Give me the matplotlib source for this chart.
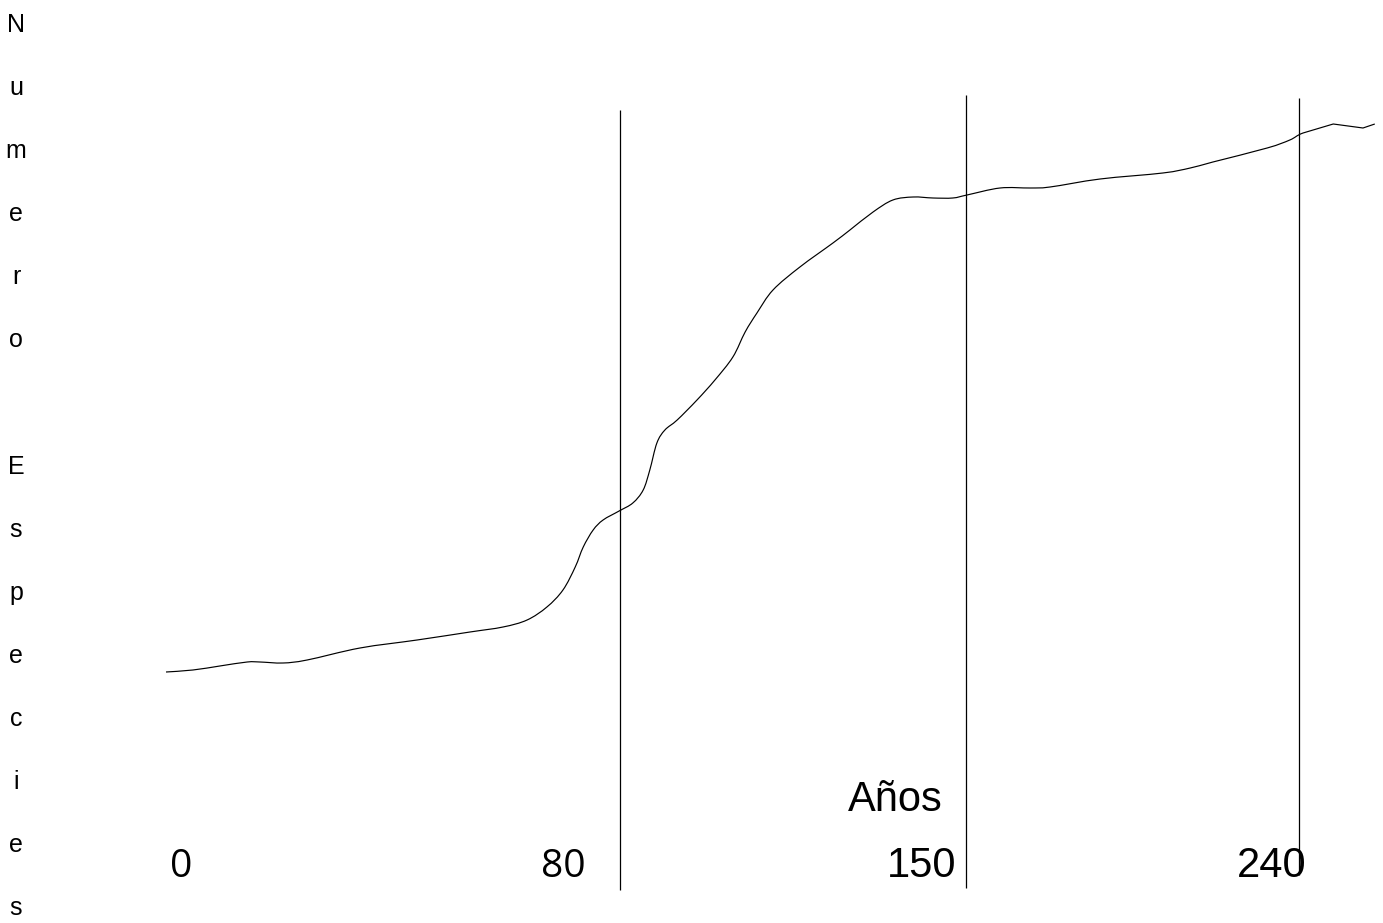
import matplotlib
matplotlib.use("Agg")
import matplotlib.pyplot as plt
import numpy as np
from matplotlib.path import Path
from matplotlib.patches import PathPatch

# ---- data ----
years = [0.0, 5.7, 11.4, 17.2, 19.9, 24.8, 29.9, 41.1, 53.2, 64.4, 71.4, 76.5,
         80.7, 84.1, 86.7, 88.4, 90.5, 92.6, 96.0, 98.9, 101.1, 102.5, 104.0,
         105.7, 108.3, 112.5, 116.3, 120.1, 122.7, 125.2, 128.6, 134.3, 141.3,
         144.9, 149.8, 154.0, 158.3, 162.5, 166.7, 169.7, 176.7, 183.1, 187.3,
         197.9, 211.2, 217.0, 221.8, 233.3, 238.1, 240.9, 247.3, 253.6, 256.1]
species = [62.75, 63.25, 64.25, 65.25, 65.25, 65.0, 65.75, 68.75, 70.75, 72.75,
           74.0, 75.75, 79.0, 83.25, 89.0, 94.0, 98.25, 100.75, 103.0, 105.0,
           108.25, 113.25, 120.0, 123.25, 125.75, 130.75, 135.75, 141.5, 147.75,
           152.5, 158.25, 164.0, 170.0, 173.25, 177.75, 180.75, 181.5, 181.25,
           181.25, 182.0, 183.75, 183.75, 184.0, 186.0, 187.5, 188.75, 190.25,
           193.75, 195.75, 197.5, 199.75, 198.75, 199.75]

period_years = [96.2, 169.5, 240.0]
period_top = [203.25, 207.0, 206.25]
period_bottom = [8.25, 8.75, 12.0]

tick_labels = ["0", "80", "150", "240"]
x_title = "Años"
y_title = "Numero Especies"

# ---- figure ----
W, H = 1383, 923
fig = plt.figure(figsize=(W / 100, H / 100), dpi=100)
fig.patch.set_facecolor("white")
ax = fig.add_axes([0, 0, 1, 1])
ax.axis("off")
ax.set_xlim(-166 / 4.72, (W - 166) / 4.72)
ax.set_ylim(0, H / 4)

# smooth curve through the read points (Catmull-Rom as cubic Bezier path),
# the last few segments are straight as in the reference
pts = np.column_stack([years, species])
n = len(pts)
n_smooth = n - 4  # index after which segments are straight
verts = [tuple(pts[0])]
codes = [Path.MOVETO]
for i in range(n - 1):
    p1, p2 = pts[i], pts[i + 1]
    if i < n_smooth:
        p0 = pts[i - 1] if i > 0 else p1
        p3 = pts[i + 2] if i + 2 < n else p2
        c1 = p1 + (p2 - p0) / 6.0
        c2 = p2 - (p3 - p1) / 6.0
        verts += [tuple(c1), tuple(c2), tuple(p2)]
        codes += [Path.CURVE4] * 3
    else:
        verts.append(tuple(p2))
        codes.append(Path.LINETO)
ax.add_patch(PathPatch(Path(verts, codes), facecolor="none",
                       edgecolor="black", lw=0.85, joinstyle="round"))

ax.vlines(period_years, period_bottom, period_top, color="black", lw=0.9)


def px(x, y):
    return x / W, 1 - y / H


# vertical y title, one letter per line
ytx = 16
for i, ch in enumerate(y_title):
    if ch == " ":
        continue
    fig.text(*px(ytx, 25 + 63.1 * i), ch, ha="center", va="center",
             fontsize=18, family="Liberation Sans", color="black")

# tick labels
fig.text(*px(181, 877), tick_labels[0], ha="center", va="baseline",
         fontsize=28, family="Open Sans", color="black")
fig.text(*px(563, 877), tick_labels[1], ha="center", va="baseline",
         fontsize=28, family="Open Sans", color="black")
fig.text(*px(922, 877), tick_labels[2], ha="center", va="baseline",
         fontsize=30, family="Liberation Sans", color="black")
fig.text(*px(1272, 877), tick_labels[3], ha="center", va="baseline",
         fontsize=30, family="Liberation Sans", color="black")

# x title
fig.text(*px(895, 811), x_title, ha="center", va="baseline",
         fontsize=30, family="Liberation Sans", color="black")

fig.savefig("out.png", dpi=100, facecolor="white")
